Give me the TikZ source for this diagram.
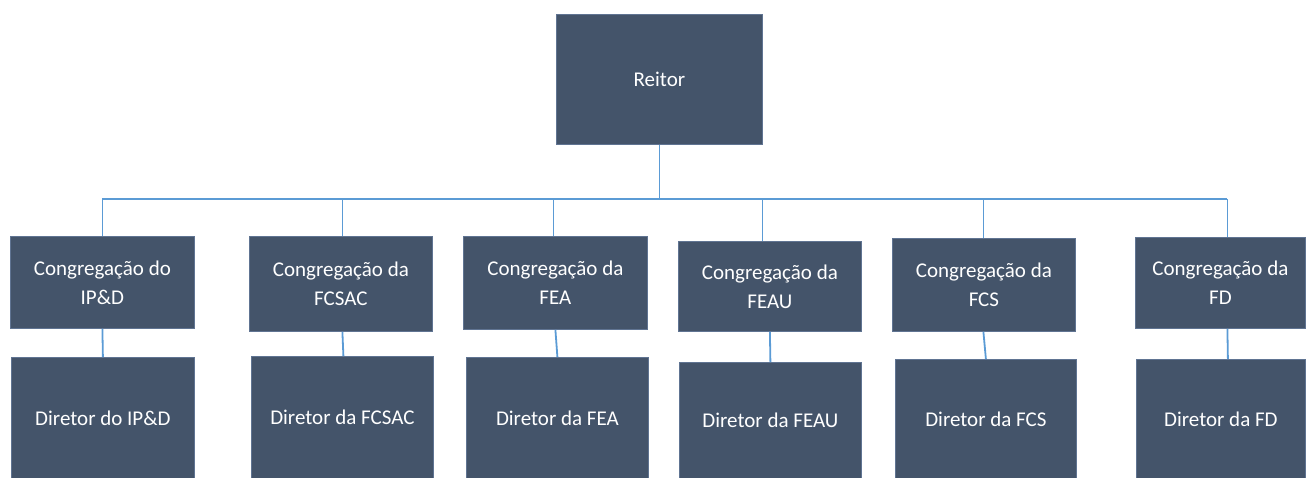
\documentclass[tikz,border=0pt]{standalone}
\usepackage{fontspec}
\setmainfont{Carlito}
\definecolor{boxfill}{RGB}{68,84,106}
\definecolor{boxedge}{RGB}{96,116,146}
\definecolor{linkblue}{RGB}{91,155,213}
\tikzset{
  orgbox/.style={anchor=north west, fill=boxfill, draw=boxedge, line width=0.8pt,
    inner sep=0pt, text=white, align=center,
    font=\fontsize{21}{29}\selectfont},
  link/.style={draw=linkblue, line width=1.8pt}
}
\begin{document}
\begin{tikzpicture}[x=1pt,y=-1pt]
\useasboundingbox (0,0) rectangle (1309,477);
\clip (0,0) rectangle (1309,477);
\node[orgbox, minimum width=206pt, minimum height=130pt] (R) at (556,14) {Reitor};

\node[orgbox, minimum width=184pt, minimum height=92pt] (C1) at (10,236) {Congregação do\\IP\&D};
\node[orgbox, minimum width=183pt, minimum height=95pt] (C2) at (249,236) {Congregação da\\FCSAC};
\node[orgbox, minimum width=184pt, minimum height=93pt] (C3) at (463,236) {Congregação da\\FEA};
\node[orgbox, minimum width=183pt, minimum height=90pt] (C4) at (678,241) {Congregação da\\FEAU};
\node[orgbox, minimum width=183pt, minimum height=93pt] (C5) at (892,238) {Congregação da\\FCS};
\node[orgbox, minimum width=170pt, minimum height=91pt] (C6) at (1135,237) {Congregação da\\FD};

\node[orgbox, minimum width=183pt, minimum height=121pt] (D1) at (11,357) {Diretor do IP\&D};
\node[orgbox, minimum width=182pt, minimum height=122pt] (D2) at (251,356) {Diretor da FCSAC};
\node[orgbox, minimum width=182pt, minimum height=121pt] (D3) at (466,357) {Diretor da FEA};
\node[orgbox, minimum width=182pt, minimum height=116pt] (D4) at (679,362) {Diretor da FEAU};
\node[orgbox, minimum width=181pt, minimum height=119pt] (D5) at (895,359) {Diretor da FCS};
\node[orgbox, minimum width=169pt, minimum height=119pt] (D6) at (1136,359) {Diretor da FD};

\coordinate (busL) at (102,199);
\coordinate (busR) at (1227,199);
\draw[link] (R.south) -- (R.south |- busL);
\draw[link] (busL) -- (busR);
\draw[link] (C1.north) -- (C1.north |- busL);
\draw[link] ([xshift=1.5pt]C2.north) -- ([xshift=1.5pt]C2.north |- busL);
\draw[link] ([xshift=-2pt]C3.north) -- ([xshift=-2pt]C3.north |- busL);
\draw[link] ([xshift=-7.5pt]C4.north) -- ([xshift=-7.5pt]C4.north |- busL);
\draw[link] ([xshift=-0.5pt]C5.north) -- ([xshift=-0.5pt]C5.north |- busL);
\draw[link] ([xshift=7pt]C6.north) -- ([xshift=7pt]C6.north |- busL);

\draw[link] (C1.south) -- (D1.north);
\draw[link] ([xshift=1.5pt]C2.south) -- ([xshift=1pt]D2.north);
\draw[link] (C3.south) -- (D3.north);
\draw[link] (C4.south) -- (D4.north);
\draw[link] ([xshift=-0.5pt]C5.south) -- (D5.north);
\draw[link] ([xshift=7pt]C6.south) -- ([xshift=7pt]D6.north);
\end{tikzpicture}
\end{document}
